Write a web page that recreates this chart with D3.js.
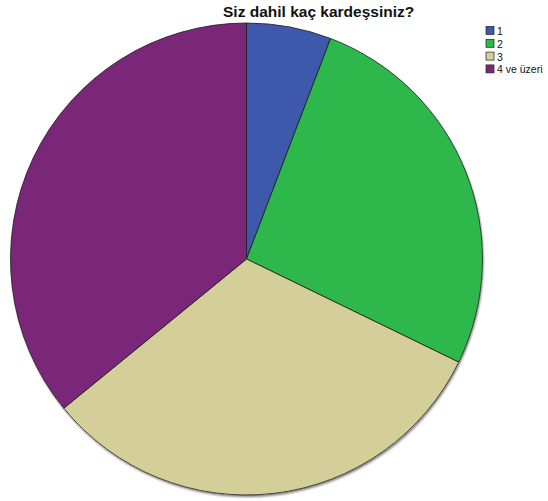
<!DOCTYPE html>
<html><head><meta charset="utf-8">
<script src="https://cdn.jsdelivr.net/npm/d3@7"></script>
<style>body{margin:0;background:#fff}svg{display:block}</style>
</head><body>
<svg id="chart" width="548" height="501"></svg>
<script>
const title = "Siz dahil kaç kardeşsiniz?";
const categories = ["1", "2", "3", "4 ve üzeri"];
const values = [5.8, 26.4, 31.9, 35.9];
const colors = ["#3e58ac", "#2eb84b", "#d4cf98", "#7a277a"];

const svg = d3.select("#chart");
const cx = 246.5, cy = 259, r = 236;

const defs = svg.append("defs");
const f = defs.append("filter").attr("id","sh").attr("x","-10%").attr("y","-10%").attr("width","120%").attr("height","120%");
f.append("feGaussianBlur").attr("in","SourceAlpha").attr("stdDeviation",1.2);
f.append("feOffset").attr("dx",1).attr("dy",1.5).attr("result","b");
f.append("feComponentTransfer").append("feFuncA").attr("type","linear").attr("slope",0.5);
const m = f.append("feMerge"); m.append("feMergeNode"); m.append("feMergeNode").attr("in","SourceGraphic");

const pie = d3.pie().sort(null).value(d => d)(values);
const arc = d3.arc().innerRadius(0).outerRadius(r);
const g = svg.append("g").attr("transform", `translate(${cx},${cy})`);
g.append("circle").attr("r", r).attr("fill","#fff").attr("filter","url(#sh)");
g.selectAll("path").data(pie).join("path")
  .attr("d", arc)
  .attr("fill", (d,i) => colors[i])
  .attr("stroke", "#1a1a1a").attr("stroke-width", 0.8).attr("stroke-linejoin","round");

svg.append("text").attr("x", 223).attr("y", 17).attr("text-anchor","start")
  .attr("font-family","Liberation Sans, Arial, sans-serif").attr("font-weight","bold")
  .attr("font-size", 15.5).attr("fill","#111").text(title);

const lg = svg.append("g").attr("font-family","Liberation Sans, Arial, sans-serif").attr("font-size", 10.5);
categories.forEach((c,i) => {
  const y = 31 + i*12.8;
  lg.append("rect").attr("x",486).attr("y", y-4.5).attr("width",8).attr("height",8)
    .attr("fill", colors[i]).attr("stroke","#222").attr("stroke-width",0.7);
  lg.append("text").attr("x",497).attr("y", y+4).attr("fill","#111").text(c);
});
</script>
</body></html>
